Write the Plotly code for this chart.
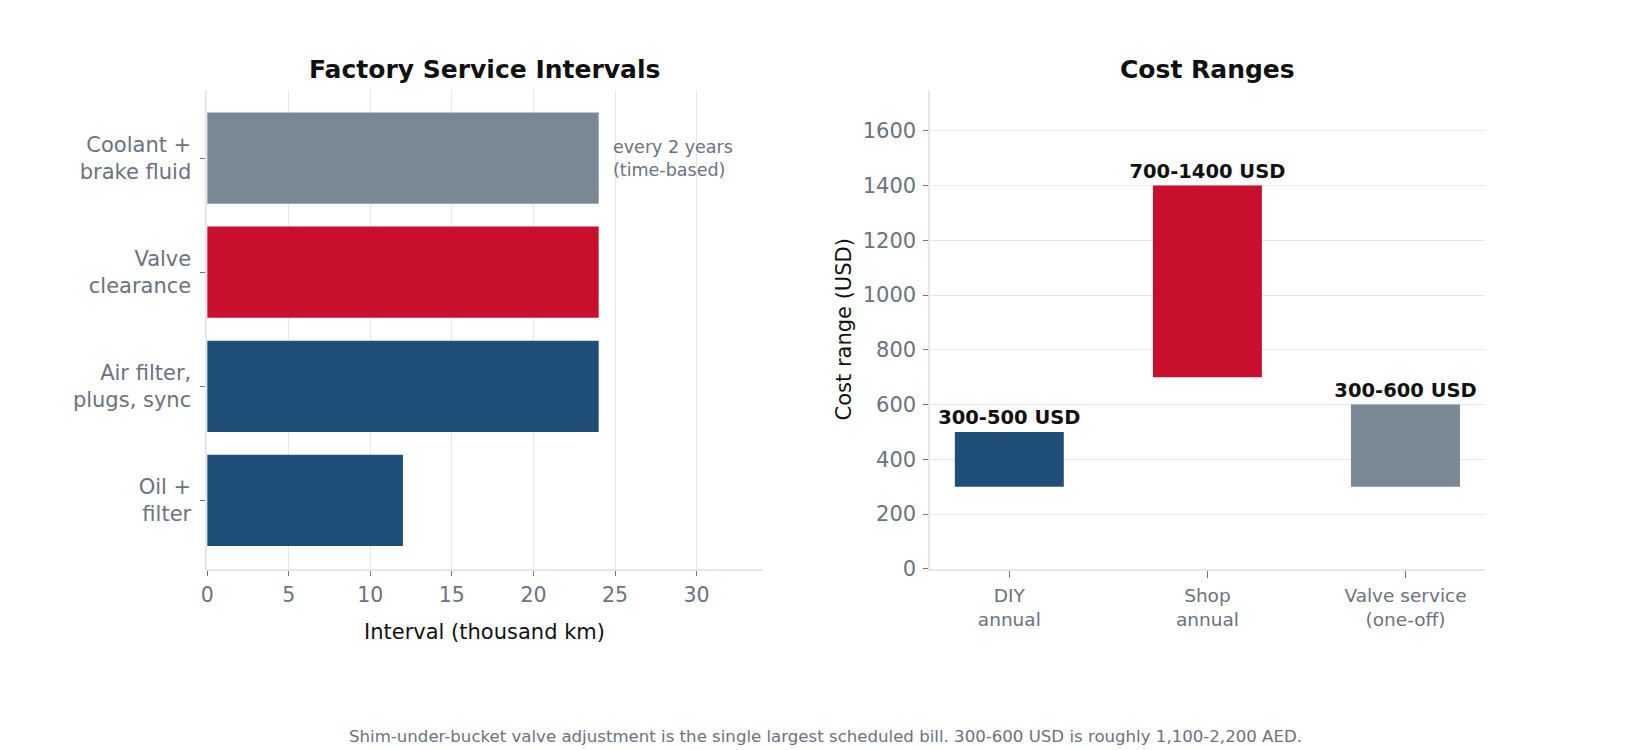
import plotly.graph_objects as go

# ---- data ----
service_items = ["Oil +<br>filter", "Air filter,<br>plugs, sync", "Valve<br>clearance", "Coolant +<br>brake fluid"]
service_km = [12, 24, 24, 24]
service_colors = ["#1f4e79", "#1f4e79", "#c8102e", "#7a8896"]

cost_cats = ["DIY<br>annual", "Shop<br>annual", "Valve service<br>(one-off)"]
cost_low = [300, 700, 300]
cost_high = [500, 1400, 600]
cost_colors = ["#1f4e79", "#c8102e", "#7a8896"]
cost_labels = [f"{lo}-{hi} USD" for lo, hi in zip(cost_low, cost_high)]

x_ticks = [0, 5, 10, 15, 20, 25, 30]
y_ticks = [0, 200, 400, 600, 800, 1000, 1200, 1400, 1600]

FONT = "DejaVu Sans"
GRAY = "#6b7280"
GRID = "#e5e7eb"
W, H = 1650, 750
TOP, BOT = 83, 570
L1, R1 = 193, 750
L2, R2 = 919, 1476

fig = go.Figure()

fig.add_trace(go.Bar(
    x=service_km, y=service_items, orientation="h",
    marker=dict(color=service_colors, line=dict(width=0)),
    width=0.8, xaxis="x", yaxis="y", showlegend=False, hoverinfo="x+y",
))

fig.add_trace(go.Bar(
    x=cost_cats, y=[h - l for l, h in zip(cost_low, cost_high)], base=cost_low,
    marker=dict(color=cost_colors, line=dict(width=0)),
    width=0.55, xaxis="x2", yaxis="y2", showlegend=False,
    text=cost_labels, textposition="outside", cliponaxis=False,
    constraintext="none",
    textfont=dict(family=FONT, size=19.5, color="#111111"),
    texttemplate="<b>%{text}</b>",
))

fig.update_layout(
    width=W, height=H,
    margin=dict(l=0, r=0, t=0, b=0),
    paper_bgcolor="white", plot_bgcolor="white",
    font=dict(family=FONT, color=GRAY, size=21),
    xaxis=dict(
        domain=[L1 / W, R1 / W], anchor="y",
        range=[0, 34], tickvals=x_ticks,
        showgrid=True, gridcolor=GRID, gridwidth=1.2,
        showline=True, linecolor=GRID, linewidth=1.5,
        ticks="outside", ticklen=5, tickcolor=GRAY, tickwidth=1,
        tickfont=dict(size=20.5, color=GRAY), zeroline=False,
        ticklabelstandoff=2,
        title=dict(text="Interval (thousand km)", font=dict(size=21, color="#111111"), standoff=18),
    ),
    yaxis=dict(
        domain=[1 - BOT / H, 1 - TOP / H], anchor="x",
        range=[-0.6, 3.6],
        showgrid=False, showline=True, linecolor=GRID, linewidth=1.5,
        ticks="outside", ticklen=5, tickcolor=GRAY, tickwidth=1,
        tickfont=dict(size=21, color=GRAY), zeroline=False,
        ticklabelstandoff=5,
    ),
    xaxis2=dict(
        domain=[L2 / W, R2 / W], anchor="y2",
        range=[-0.4, 2.4],
        showgrid=False, showline=True, linecolor=GRID, linewidth=1.5,
        ticks="outside", ticklen=7, tickcolor=GRAY, tickwidth=1,
        tickfont=dict(size=18.5, color=GRAY), zeroline=False,
        ticklabelstandoff=2,
    ),
    yaxis2=dict(
        domain=[1 - BOT / H, 1 - TOP / H], anchor="x2",
        range=[0, 1750], tickvals=y_ticks,
        showgrid=True, gridcolor=GRID, gridwidth=1.2,
        showline=True, linecolor=GRID, linewidth=1.5,
        ticks="outside", ticklen=5, tickcolor=GRAY, tickwidth=1,
        tickfont=dict(size=21, color=GRAY), zeroline=False,
        ticklabelstandoff=3,
        title=dict(text="Cost range (USD)", font=dict(size=21, color="#111111"), standoff=5),
    ),
    annotations=[
        dict(text="<b>Factory Service Intervals</b>", xref="paper", yref="paper",
             x=(L1 + R1) / 2 / W, y=1 - 62 / H, xanchor="center", yanchor="middle",
             showarrow=False, font=dict(size=25, color="#111111")),
        dict(text="<b>Cost Ranges</b>", xref="paper", yref="paper",
             x=(L2 + R2) / 2 / W, y=1 - 62 / H, xanchor="center", yanchor="middle",
             showarrow=False, font=dict(size=25, color="#111111")),
        dict(text="every 2 years<br>(time-based)", xref="x", yref="y",
             x=service_km[3], y=service_items[3], xanchor="left", yanchor="middle",
             xshift=12, align="left", showarrow=False, font=dict(size=17.5, color=GRAY)),
        dict(text="Shim-under-bucket valve adjustment is the single largest scheduled bill. 300-600 USD is roughly 1,100-2,200 AED.",
             xref="paper", yref="paper", x=814 / W, y=1 - 740 / H, xanchor="center", yanchor="middle",
             showarrow=False, font=dict(size=16.6, color=GRAY)),
    ],
)

fig.write_html("out.html")
